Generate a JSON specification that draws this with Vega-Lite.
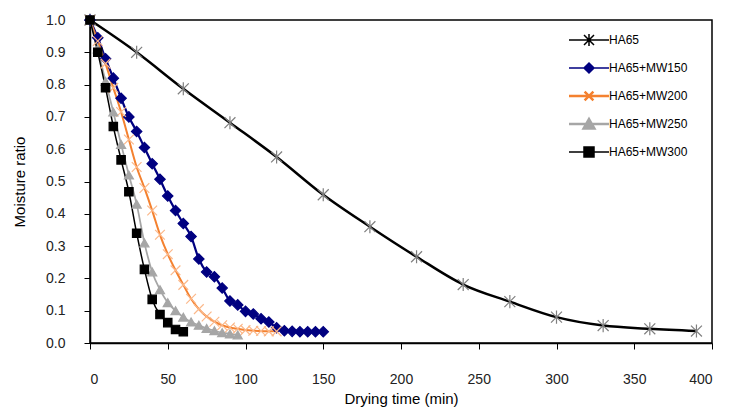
{
  "$schema": "https://vega.github.io/schema/vega-lite/v6.json",
  "width": 622,
  "height": 323,
  "autosize": "none",
  "padding": {"left": 90, "top": 20, "right": 17, "bottom": 69},
  "background": "white",
  "config": {
    "view": {"stroke": "#000", "strokeWidth": 1.5},
    "font": "Liberation Sans"
  },
  "data": {"values": [
    {"s":"HA65","t":0,"mr":1.0},{"s":"HA65","t":30,"mr":0.9},{"s":"HA65","t":60,"mr":0.787},{"s":"HA65","t":90,"mr":0.682},{"s":"HA65","t":120,"mr":0.576},{"s":"HA65","t":150,"mr":0.459},{"s":"HA65","t":180,"mr":0.36},{"s":"HA65","t":210,"mr":0.267},{"s":"HA65","t":240,"mr":0.181},{"s":"HA65","t":270,"mr":0.128},{"s":"HA65","t":300,"mr":0.08},{"s":"HA65","t":330,"mr":0.054},{"s":"HA65","t":360,"mr":0.044},{"s":"HA65","t":390,"mr":0.037},
    {"s":"HA65+MW150","t":0,"mr":1.0},{"s":"HA65+MW150","t":5,"mr":0.945},{"s":"HA65+MW150","t":10,"mr":0.88},{"s":"HA65+MW150","t":15,"mr":0.82},{"s":"HA65+MW150","t":20,"mr":0.758},{"s":"HA65+MW150","t":25,"mr":0.7},{"s":"HA65+MW150","t":30,"mr":0.655},{"s":"HA65+MW150","t":35,"mr":0.605},{"s":"HA65+MW150","t":40,"mr":0.555},{"s":"HA65+MW150","t":45,"mr":0.507},{"s":"HA65+MW150","t":50,"mr":0.455},{"s":"HA65+MW150","t":55,"mr":0.41},{"s":"HA65+MW150","t":60,"mr":0.37},{"s":"HA65+MW150","t":65,"mr":0.33},{"s":"HA65+MW150","t":70,"mr":0.26},{"s":"HA65+MW150","t":75,"mr":0.22},{"s":"HA65+MW150","t":80,"mr":0.205},{"s":"HA65+MW150","t":85,"mr":0.17},{"s":"HA65+MW150","t":90,"mr":0.13},{"s":"HA65+MW150","t":95,"mr":0.118},{"s":"HA65+MW150","t":100,"mr":0.098},{"s":"HA65+MW150","t":105,"mr":0.09},{"s":"HA65+MW150","t":110,"mr":0.075},{"s":"HA65+MW150","t":115,"mr":0.065},{"s":"HA65+MW150","t":120,"mr":0.047},{"s":"HA65+MW150","t":125,"mr":0.038},{"s":"HA65+MW150","t":130,"mr":0.036},{"s":"HA65+MW150","t":135,"mr":0.035},{"s":"HA65+MW150","t":140,"mr":0.035},{"s":"HA65+MW150","t":145,"mr":0.035},{"s":"HA65+MW150","t":150,"mr":0.035},
    {"s":"HA65+MW200","t":0,"mr":1.0},{"s":"HA65+MW200","t":5,"mr":0.935},{"s":"HA65+MW200","t":10,"mr":0.865},{"s":"HA65+MW200","t":15,"mr":0.79},{"s":"HA65+MW200","t":20,"mr":0.715},{"s":"HA65+MW200","t":25,"mr":0.63},{"s":"HA65+MW200","t":30,"mr":0.545},{"s":"HA65+MW200","t":35,"mr":0.48},{"s":"HA65+MW200","t":40,"mr":0.41},{"s":"HA65+MW200","t":45,"mr":0.335},{"s":"HA65+MW200","t":50,"mr":0.275},{"s":"HA65+MW200","t":55,"mr":0.225},{"s":"HA65+MW200","t":60,"mr":0.18},{"s":"HA65+MW200","t":65,"mr":0.137},{"s":"HA65+MW200","t":70,"mr":0.105},{"s":"HA65+MW200","t":75,"mr":0.082},{"s":"HA65+MW200","t":80,"mr":0.066},{"s":"HA65+MW200","t":85,"mr":0.055},{"s":"HA65+MW200","t":90,"mr":0.048},{"s":"HA65+MW200","t":95,"mr":0.044},{"s":"HA65+MW200","t":100,"mr":0.04},{"s":"HA65+MW200","t":105,"mr":0.038},{"s":"HA65+MW200","t":110,"mr":0.037},{"s":"HA65+MW200","t":115,"mr":0.036},{"s":"HA65+MW200","t":120,"mr":0.036},
    {"s":"HA65+MW250","t":0,"mr":1.0},{"s":"HA65+MW250","t":5,"mr":0.91},{"s":"HA65+MW250","t":10,"mr":0.81},{"s":"HA65+MW250","t":15,"mr":0.715},{"s":"HA65+MW250","t":20,"mr":0.615},{"s":"HA65+MW250","t":25,"mr":0.52},{"s":"HA65+MW250","t":30,"mr":0.43},{"s":"HA65+MW250","t":35,"mr":0.31},{"s":"HA65+MW250","t":40,"mr":0.22},{"s":"HA65+MW250","t":45,"mr":0.165},{"s":"HA65+MW250","t":50,"mr":0.125},{"s":"HA65+MW250","t":55,"mr":0.1},{"s":"HA65+MW250","t":60,"mr":0.08},{"s":"HA65+MW250","t":65,"mr":0.065},{"s":"HA65+MW250","t":70,"mr":0.055},{"s":"HA65+MW250","t":75,"mr":0.045},{"s":"HA65+MW250","t":80,"mr":0.038},{"s":"HA65+MW250","t":85,"mr":0.032},{"s":"HA65+MW250","t":90,"mr":0.028},{"s":"HA65+MW250","t":95,"mr":0.025},
    {"s":"HA65+MW300","t":0,"mr":1.0},{"s":"HA65+MW300","t":5,"mr":0.9},{"s":"HA65+MW300","t":10,"mr":0.79},{"s":"HA65+MW300","t":15,"mr":0.67},{"s":"HA65+MW300","t":20,"mr":0.567},{"s":"HA65+MW300","t":25,"mr":0.468},{"s":"HA65+MW300","t":30,"mr":0.34},{"s":"HA65+MW300","t":35,"mr":0.228},{"s":"HA65+MW300","t":40,"mr":0.135},{"s":"HA65+MW300","t":45,"mr":0.088},{"s":"HA65+MW300","t":50,"mr":0.063},{"s":"HA65+MW300","t":55,"mr":0.042},{"s":"HA65+MW300","t":60,"mr":0.035}
  ]},
  "encoding": {
    "x": {"field": "t", "type": "quantitative",
      "scale": {"domain": [0, 400], "nice": false, "zero": false},
      "axis": {"title": "Drying time (min)", "values": [0,50,100,150,200,250,300,350,400], "grid": false,
        "domainColor": "#000", "domainWidth": 1.5, "tickColor": "#000", "tickSize": 6, "tickWidth": 1,
        "labelPadding": 23, "labelFontSize": 14, "labelColor": "#222", "labelFont": "Liberation Sans",
        "titleFontSize": 15, "titleFontWeight": "normal", "titleColor": "#000", "titlePadding": 5, "titleFont": "Liberation Sans"}},
    "y": {"field": "mr", "type": "quantitative",
      "scale": {"domain": [0, 1], "nice": false},
      "axis": {"title": "Moisture ratio", "values": [0,0.1,0.2,0.3,0.4,0.5,0.6,0.7,0.8,0.9,1.0], "format": ".1f", "grid": false,
        "domainColor": "#000", "domainWidth": 1.5, "tickColor": "#000", "tickSize": 6, "tickWidth": 1,
        "labelPadding": 19, "labelFontSize": 14, "labelColor": "#222", "labelFont": "Liberation Sans",
        "titleFontSize": 15, "titleFontWeight": "normal", "titleColor": "#000", "titlePadding": 18, "titleFont": "Liberation Sans"}}
  },
  "layer": [
    {
      "mark": {"type": "line", "interpolate": "monotone"},
      "encoding": {
        "detail": {"field": "s"},
        "stroke": {"field": "s", "type": "nominal",
          "scale": {"domain": ["HA65","HA65+MW150","HA65+MW200","HA65+MW250","HA65+MW300"],
                    "range": ["#000000","#000080","#F4812F","#A6A6A6","#000000"]},
          "legend": {
            "orient": "none", "legendX": 493, "legendY": 14, "title": null,
            "labelFont": "Liberation Sans", "labelFontSize": 12, "labelColor": "#000",
            "symbolSize": 1600, "labelOffset": 14, "rowPadding": 8, "padding": 0, "gridAlign": "all",
            "encode": {"symbols": {"update": {
              "shape": {"signal": "datum.value==='HA65'?'M-1,0H1M-0.25,-0.25L0.25,0.25M-0.25,0.25L0.25,-0.25M0,-0.3V0.3':datum.value==='HA65+MW150'?'M-1,0H1M0,-0.25L0.25,0L0,0.25L-0.25,0Z':datum.value==='HA65+MW200'?'M-1,0H1M-0.22,-0.22L0.22,0.22M-0.22,0.22L0.22,-0.22':datum.value==='HA65+MW250'?'M-1,0H1M0,-0.25L0.27,0.22L-0.27,0.22Z':'M-1,0H1M-0.25,-0.25H0.25V0.25H-0.25Z'"},
              "stroke": {"signal": "datum.value==='HA65'?'#000000':datum.value==='HA65+MW150'?'#000080':datum.value==='HA65+MW200'?'#F4812F':datum.value==='HA65+MW250'?'#A6A6A6':'#000000'"},
              "fill": {"signal": "datum.value==='HA65'?'#000000':datum.value==='HA65+MW150'?'#000080':datum.value==='HA65+MW200'?'#F4812F':datum.value==='HA65+MW250'?'#A6A6A6':'#000000'"},
              "strokeWidth": {"signal": "datum.value==='HA65+MW200'||datum.value==='HA65+MW250'?2.5:1.5"},
              "opacity": {"value": 1},
              "size": {"value": 1600}
            }}}
          }},
        "strokeWidth": {"field": "s", "type": "nominal", "legend": null,
          "scale": {"domain": ["HA65","HA65+MW150","HA65+MW200","HA65+MW250","HA65+MW300"],
                    "range": [2.5, 1.5, 2.5, 3, 1.5]}}
      }
    },
    {
      "mark": {"type": "point", "opacity": 1, "strokeWidth": 1.2},
      "encoding": {
        "shape": {"field": "s", "type": "nominal", "legend": null,
          "scale": {"domain": ["HA65","HA65+MW150","HA65+MW200","HA65+MW250","HA65+MW300"],
                    "range": ["M-1,-1L1,1M-1,1L1,-1M0,-1.2V1.2","diamond","M-1,-1L1,1M-1,1L1,-1","triangle-up","square"]}},
        "fill": {"field": "s", "type": "nominal", "legend": null,
          "scale": {"domain": ["HA65","HA65+MW150","HA65+MW200","HA65+MW250","HA65+MW300"],
                    "range": ["#7f7f7f","#000080","#FBB88A","#A6A6A6","#000000"]}},
        "stroke": {"field": "s", "type": "nominal", "legend": null,
          "scale": {"domain": ["HA65","HA65+MW150","HA65+MW200","HA65+MW250","HA65+MW300"],
                    "range": ["#7f7f7f","#000080","#FBB88A","#A6A6A6","#000000"]}},
        "size": {"field": "s", "type": "nominal", "legend": null,
          "scale": {"domain": ["HA65","HA65+MW150","HA65+MW200","HA65+MW250","HA65+MW300"],
                    "range": [120, 70, 60, 90, 100]}}
      }
    }
  ],
  "resolve": {"scale": {"stroke": "independent"}, "legend": {"stroke": "independent"}}
}
